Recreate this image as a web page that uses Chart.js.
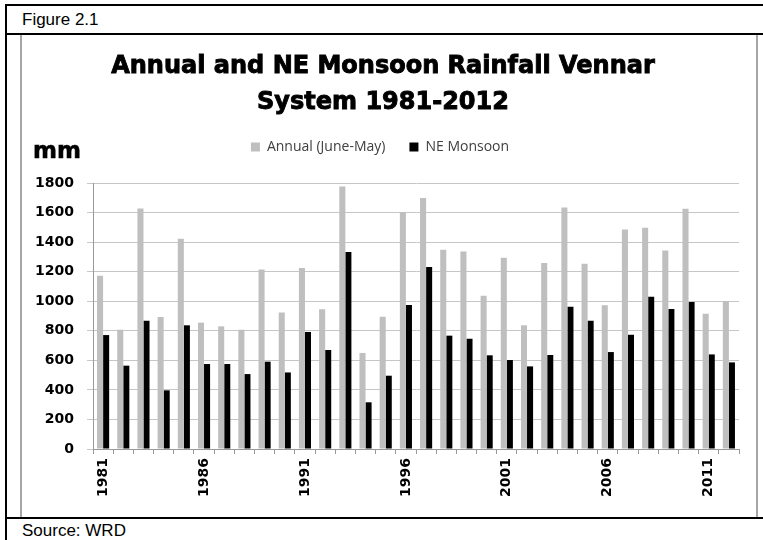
<!DOCTYPE html>
<html>
<head>
<meta charset="utf-8">
<script src="https://cdn.jsdelivr.net/npm/chart.js@4/dist/chart.umd.min.js"></script>
<style>
  html, body { margin: 0; padding: 0; background: #fff; }
  body { width: 763px; height: 540px; position: relative; overflow: hidden; font-family: "Liberation Sans", Arial, sans-serif; }
  .rule { position: absolute; background: #000; }
  .cap { position: absolute; font-size: 17px; color: #000; line-height: 1; }
  #box { position: absolute; left: 20px; top: 35px; width: 734px; height: 482px;
         border-left: 2px solid #a6a6a6; border-right: 2px solid #a6a6a6; box-sizing: content-box; }
  #wrap { position: absolute; left: 21px; top: 36px; }
</style>
</head>
<body>
<div class="rule" style="left:5px;top:4px;width:758px;height:2px"></div>
<div class="rule" style="left:5px;top:33px;width:758px;height:2px"></div>
<div class="rule" style="left:5px;top:517px;width:758px;height:2px"></div>
<div class="rule" style="left:5px;top:4px;width:2px;height:536px"></div>
<div class="cap" style="left:22px;top:11px">Figure 2.1</div>
<div class="cap" style="left:22px;top:522px">Source: WRD</div>
<div id="box"></div>
<div id="wrap"><canvas id="c" width="734" height="480"></canvas></div>
<script>
// Vennar system rainfall (mm), 1981-2012
const years = ['1981','1982','1983','1984','1985','1986','1987','1988','1989','1990',
               '1991','1992','1993','1994','1995','1996','1997','1998','1999','2000',
               '2001','2002','2003','2004','2005','2006','2007','2008','2009','2010',
               '2011','2012'];
const annualRain = [1173, 807, 1628, 893, 1423, 855, 830, 807, 1215, 924,
                    1225, 945, 1777, 650, 895, 1604, 1698, 1349, 1337, 1037,
                    1294, 837, 1259, 1635, 1254, 972, 1486, 1497, 1344, 1626,
                    916, 1001];
const neMonsoon = [771, 564, 868, 397, 837, 575, 575, 507, 591, 518,
                   792, 670, 1333, 316, 496, 974, 1232, 767, 746, 634,
                   602, 559, 636, 963, 868, 656, 773, 1031, 947, 995,
                   640, 586];
const titleLines = ['Annual and NE Monsoon Rainfall Vennar', 'System 1981-2012'];
const unitLabel = 'mm';

const boldFace = '"DejaVu Sans", sans-serif';

// heavy two-line title and the unit caption above the value axis
const captionPlugin = {
  id: 'captions',
  afterDraw(chart) {
    const ctx = chart.ctx;
    ctx.save();
    ctx.fillStyle = '#000';
    ctx.strokeStyle = '#000';
    ctx.textBaseline = 'middle';
    ctx.textAlign = 'center';
    ctx.font = 'bold 24px ' + boldFace;
    ctx.lineWidth = 0.9;
    const cx = chart.width / 2 - 5;
    titleLines.forEach((t, i) => {
      ctx.fillText(t, cx, 31 + i * 36);
      ctx.strokeText(t, cx, 31 + i * 36);
    });
    ctx.textAlign = 'left';
    ctx.font = 'bold 23px ' + boldFace;
    ctx.lineWidth = 0.6;
    ctx.fillText(unitLabel, 12, 116);
    ctx.strokeText(unitLabel, 12, 116);
    ctx.restore();
  }
};

new Chart(document.getElementById('c'), {
  type: 'bar',
  data: {
    labels: years,
    datasets: [
      { label: 'Annual (June-May)', data: annualRain, backgroundColor: '#bfbfbf',
        barPercentage: 1.0, categoryPercentage: 0.6 },
      { label: 'NE Monsoon', data: neMonsoon, backgroundColor: '#000000',
        barPercentage: 1.0, categoryPercentage: 0.6 }
    ]
  },
  options: {
    responsive: false,
    devicePixelRatio: 1,
    animation: false,
    layout: { padding: { left: 0, right: 16, top: 80, bottom: 0 } },
    plugins: {
      title: { display: false },
      // empty spacer between the legend and the plot
      subtitle: {
        display: true, text: ' ', weight: 500,
        font: { size: 1, lineHeight: 1 },
        padding: { top: 0, bottom: 18 }
      },
      legend: {
        display: true,
        position: 'top',
        labels: {
          color: '#404040',
          font: { family: '"Open Sans", sans-serif', size: 14 },
          boxWidth: 9, boxHeight: 9, padding: 24
        }
      },
      tooltip: { enabled: false }
    },
    scales: {
      x: {
        grid: { display: true, drawOnChartArea: false, drawTicks: true, tickLength: 5, color: '#999', offset: true },
        border: { color: '#999' },
        ticks: {
          autoSkip: false, minRotation: 90, maxRotation: 90, padding: 4,
          color: '#000', font: { family: boldFace, size: 14, weight: 'bold' },
          callback(v, i) { return i % 5 === 0 ? years[i] : ''; }
        },
        afterFit(s) { s.height = 67; }
      },
      y: {
        min: 0, max: 1800,
        grid: { color: '#c6c6c6', tickLength: 6 },
        border: { color: '#999' },
        ticks: {
          stepSize: 200, padding: 13, color: '#000',
          font: { family: boldFace, size: 14, weight: 'bold' },
          callback(v) { return String(v); }
        },
        afterFit(s) { s.width = 72; }
      }
    }
  },
  plugins: [captionPlugin]
});
</script>
</body>
</html>
